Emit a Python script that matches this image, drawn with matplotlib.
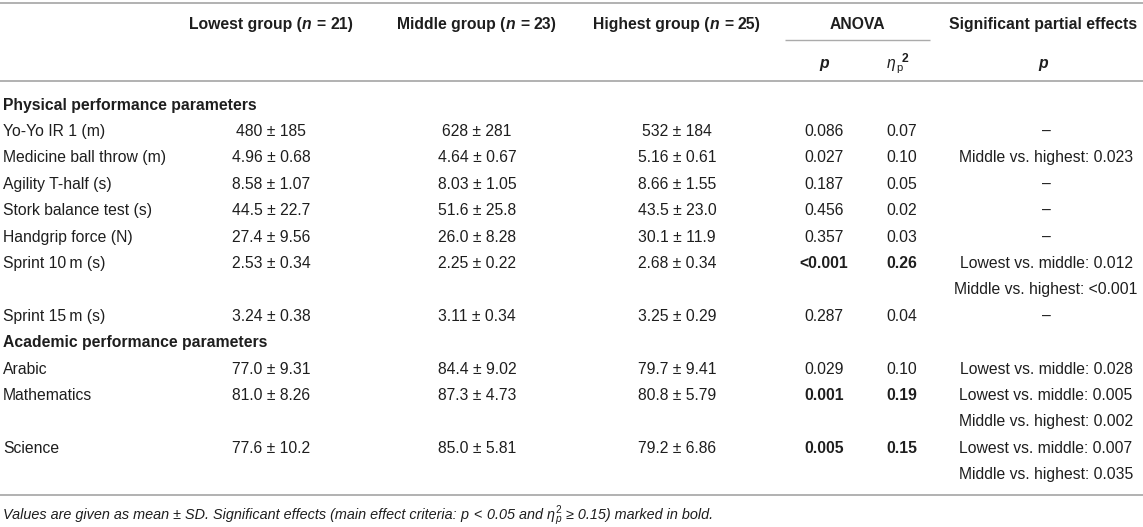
import matplotlib
matplotlib.use("Agg")
import matplotlib.pyplot as plt

# ---------------- data ----------------
sections = ["Physical performance parameters", "Academic performance parameters"]
param_section = [0, 0, 0, 0, 0, 0, 0, 1, 1, 1]
param_labels = ["Yo-Yo IR 1 (m)", "Medicine ball throw (m)", "Agility T-half (s)",
                "Stork balance test (s)", "Handgrip force (N)", "Sprint 10\u2009m (s)",
                "Sprint 15\u2009m (s)", "Arabic", "Mathematics", "Science"]
lowest_mean = ["480", "4.96", "8.58", "44.5", "27.4", "2.53", "3.24", "77.0", "81.0", "77.6"]
lowest_sd = ["185", "0.68", "1.07", "22.7", "9.56", "0.34", "0.38", "9.31", "8.26", "10.2"]
middle_mean = ["628", "4.64", "8.03", "51.6", "26.0", "2.25", "3.11", "84.4", "87.3", "85.0"]
middle_sd = ["281", "0.67", "1.05", "25.8", "8.28", "0.22", "0.34", "9.02", "4.73", "5.81"]
highest_mean = ["532", "5.16", "8.66", "43.5", "30.1", "2.68", "3.25", "79.7", "80.8", "79.2"]
highest_sd = ["184", "0.61", "1.55", "23.0", "11.9", "0.34", "0.29", "9.41", "5.79", "6.86"]
anova_p = ["0.086", "0.027", "0.187", "0.456", "0.357", "<0.001", "0.287", "0.029", "0.001", "0.005"]
anova_eta2 = ["0.07", "0.10", "0.05", "0.02", "0.03", "0.26", "0.04", "0.10", "0.19", "0.15"]
significant = [False, False, False, False, False, True, False, False, True, True]
partial_effects = [["\u2013"], ["Middle vs. highest: 0.023"], ["\u2013"], ["\u2013"], ["\u2013"],
                   ["Lowest vs. middle: 0.012", "Middle vs. highest: <0.001"], ["\u2013"],
                   ["Lowest vs. middle: 0.028"],
                   ["Lowest vs. middle: 0.005", "Middle vs. highest: 0.002"],
                   ["Lowest vs. middle: 0.007", "Middle vs. highest: 0.035"]]
group_names = ["Lowest group", "Middle group", "Highest group"]
group_n = [21, 23, 25]

# ---------------- layout ----------------
W, H = 1143, 527
FS = 11.3
FPX = FS * 100 / 72.0
TXT = "#1e1e1e"
LINE = "#ababab"
FAM = ["Liberation Sans", "DejaVu Sans"]

fig = plt.figure(figsize=(W / 100, H / 100), dpi=100)
ax = fig.add_axes([0, 0, 1, 1])
ax.set_xlim(0, W)
ax.set_ylim(H, 0)
ax.axis("off")
renderer = fig.canvas.get_renderer()


def rich(x, yc, parts, ha="center", size=FS):
    """parts: list of (text, style dict). style keys: weight, style, size, dy, gap, stack"""
    objs = []
    cursor = 0.0
    last_x = 0.0
    fpx = size * 100 / 72.0
    for s, st in parts:
        st = dict(st)
        dy = st.pop("dy", 0.0)
        gap = st.pop("gap", 0.0)
        stack = st.pop("stack", False)
        sz = st.pop("size", size)
        t = ax.text(0, yc + 0.36 * fpx + dy, s, fontsize=sz, family=FAM, color=TXT,
                    ha="left", va="baseline", fontweight=st.get("weight", "normal"),
                    fontstyle=st.get("style", "normal"))
        w = t.get_window_extent(renderer).width
        if stack:
            px = last_x
        else:
            px = cursor + gap * fpx
            last_x = px
        objs.append((t, px))
        cursor = max(cursor, px + w)
    total = cursor
    if ha == "center":
        x0 = x - total / 2
    elif ha == "right":
        x0 = x - total
    else:
        x0 = x
    for t, px in objs:
        t.set_x(x0 + px)


def plain(x, yc, s, ha="center", weight="normal", style="normal", size=FS):
    ax.text(x, yc + 0.36 * size * 100 / 72.0, s, fontsize=size, family=FAM, color=TXT, ha=ha,
            va="baseline", fontweight=weight, fontstyle=style)


X_LABEL = 3
X_GROUPS = [271, 477, 677]
X_P = 824
X_ETA = 902
X_ANOVA = 857
X_SIG = 1046
Y_HEAD1 = 23
Y_HEAD2 = 62
Y_START = 104
PITCH = 26.4

B = {"weight": "bold"}
BI = {"weight": "bold", "style": "italic"}
R = {}
I = {"style": "italic"}

# horizontal rules
ax.plot([0, W], [3, 3], color=LINE, lw=1.3, solid_capstyle="butt")
ax.plot([785, 930], [39.5, 39.5], color=LINE, lw=1.0, solid_capstyle="butt")
ax.plot([0, W], [80.5, 80.5], color=LINE, lw=1.3, solid_capstyle="butt")

# header
for xg, name, n in zip(X_GROUPS, group_names, group_n):
    rich(xg, Y_HEAD1, [(name + " (", B), ("n", BI), ("=", dict(B, gap=0.3)),
                       (str(n) + ")", dict(B, gap=0.3))])
plain(X_ANOVA, Y_HEAD1, "ANOVA", weight="bold")
plain(X_SIG - 3, Y_HEAD1, "Significant partial effects", weight="bold")
plain(X_P, Y_HEAD2, "p", weight="bold", style="italic")
rich(X_ETA - 4, Y_HEAD2, [("\u03b7", I), ("p", dict(R, size=FS * 0.72, dy=3)),
                          ("2", dict(B, size=FS * 0.78, dy=-6))])
plain(X_SIG - 3, Y_HEAD2, "p", weight="bold", style="italic")

# body
row = 0
cur_section = -1
for i, lab in enumerate(param_labels):
    if param_section[i] != cur_section:
        cur_section = param_section[i]
        plain(X_LABEL, Y_START + row * PITCH, sections[cur_section], ha="left", weight="bold")
        row += 1
    yc = Y_START + row * PITCH
    plain(X_LABEL, yc, lab, ha="left")
    for xg, m, s in zip(X_GROUPS, [lowest_mean[i], middle_mean[i], highest_mean[i]],
                        [lowest_sd[i], middle_sd[i], highest_sd[i]]):
        plain(xg, yc, f"{m} \u00b1 {s}")
    w = "bold" if significant[i] else "normal"
    plain(X_P, yc, anova_p[i], weight=w)
    plain(X_ETA, yc, anova_eta2[i], weight=w)
    for k, pe in enumerate(partial_effects[i]):
        plain(X_SIG, yc + k * PITCH, pe)
    row += len(partial_effects[i])

y_bottom = Y_START + (row - 1) * PITCH + 21.5
ax.plot([0, W], [y_bottom, y_bottom], color=LINE, lw=1.3, solid_capstyle="butt")

# footnote
FN = 10.4
rich(3, y_bottom + 19, [
    ("Values are given as mean \u00b1 SD. Significant effects (main effect criteria:", dict(I, size=FN)),
    ("p", dict(I, size=FN, gap=0.27)),
    ("<", dict(R, size=FN, gap=0.35)),
    ("0.05 and", dict(I, size=FN, gap=0.35)),
    ("\u03b7", dict(I, size=FN, gap=0.27)),
    ("p", dict(I, size=FN * 0.7, dy=3)),
    ("2", dict(R, size=FN * 0.7, dy=-6, stack=True)),
    ("\u2265 0.15) marked in bold.", dict(I, size=FN, gap=0.4)),
], ha="left", size=FN)

fig.savefig("out.png", dpi=100)
